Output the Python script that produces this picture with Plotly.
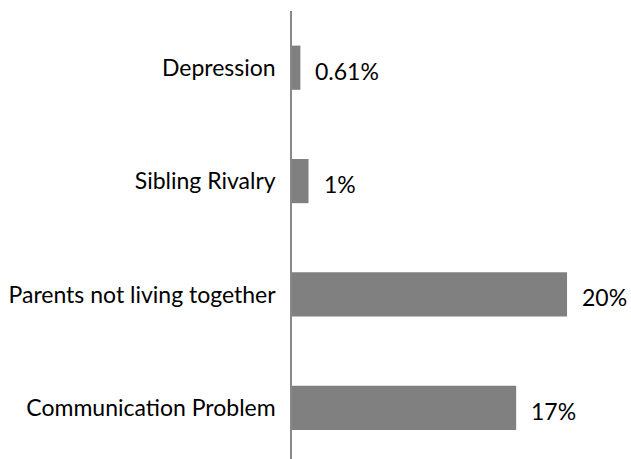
import plotly.graph_objects as go

categories = ["Communication Problem", "Parents not living together", "Sibling Rivalry", "Depression"]
values = [16.3, 20.0, 1.2, 0.61]
value_labels = ["17%", "20%", "1%", "0.61%"]

FONT = "Lato"

fig = go.Figure()
fig.add_trace(go.Bar(
    y=categories, x=values, orientation="h",
    marker=dict(color="#808080", line=dict(width=0)),
    hoverinfo="skip",
))

for c, v, t in zip(categories, values, value_labels):
    fig.add_annotation(x=v, y=c, text=t, showarrow=False, xanchor="left",
                       xshift=13, yshift=-3,
                       font=dict(family=FONT, size=23, color="#000000"))

fig.update_layout(
    width=631, height=459,
    margin=dict(l=292, r=0, t=11, b=0),
    paper_bgcolor="white", plot_bgcolor="white",
    bargap=0.61,
    showlegend=False,
    xaxis=dict(range=[0, 24.65], visible=False, fixedrange=True),
    yaxis=dict(range=[-0.451, 3.5], categoryorder="array", categoryarray=categories,
               showline=True, linecolor="#888888", linewidth=1.5,
               showgrid=False, zeroline=False, ticks="", ticklabelstandoff=10,
               tickfont=dict(family=FONT, size=23, color="#000000")),
)

fig.write_html("out.html")
